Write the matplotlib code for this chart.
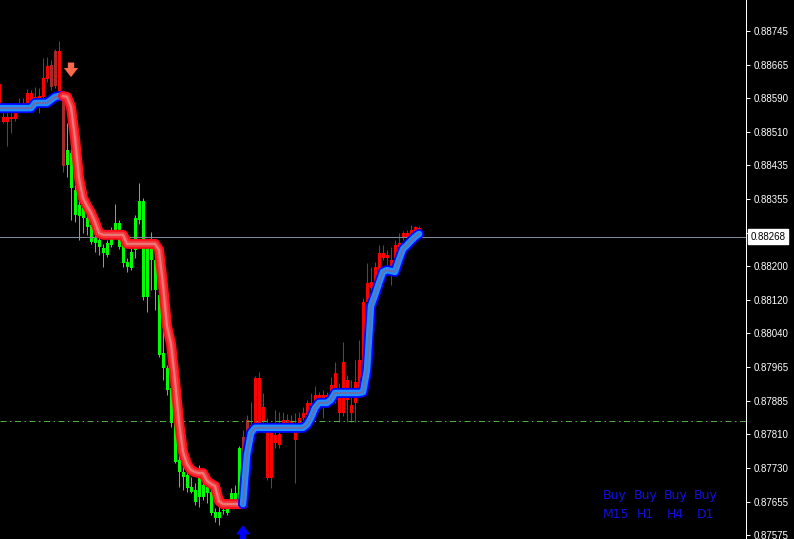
import numpy as np
import matplotlib.pyplot as plt
from matplotlib.transforms import blended_transform_factory


opens = [
    0.88573, 0.88534, 0.88534, 0.88541, 0.88541, 0.88566, 0.88569, 0.88573, 0.88580, 0.88583,
    0.88585, 0.88592, 0.88634, 0.88666, 0.88699, 0.88601, 0.88585, 0.88469, 0.88462, 0.88376,
    0.88341, 0.88334, 0.88311, 0.88295, 0.88265, 0.88260, 0.88241, 0.88225, 0.88248, 0.88276,
    0.88299, 0.88248, 0.88209, 0.88195, 0.88237, 0.88306, 0.88350, 0.88241, 0.88214, 0.88214,
    0.88132, 0.87998, 0.87963, 0.87916, 0.87835, 0.87749, 0.87721, 0.87715, 0.87687, 0.87680,
    0.87663, 0.87691, 0.87687, 0.87675, 0.87629, 0.87615, 0.87633, 0.87626, 0.87652, 0.87652,
    0.87656, 0.87803, 0.87842, 0.87814, 0.87819, 0.87831, 0.87838, 0.87708, 0.87708, 0.87789,
    0.87784, 0.87835, 0.87833, 0.87831, 0.87796, 0.87835, 0.87847, 0.87854, 0.87875, 0.87882,
    0.87884, 0.87884, 0.87893, 0.87905, 0.87916, 0.87858, 0.87858, 0.87889, 0.87858, 0.87882,
    0.87905, 0.87905, 0.88116, 0.88149, 0.88162, 0.88179, 0.88218, 0.88218, 0.88197, 0.88209,
    0.88241, 0.88265, 0.88267, 0.88272, 0.88279, 0.88288,
]
highs = [
    0.88631, 0.88562, 0.88562, 0.88557, 0.88562, 0.88590, 0.88590, 0.88610, 0.88608, 0.88615,
    0.88613, 0.88682, 0.88685, 0.88678, 0.88703, 0.88722, 0.88594, 0.88532, 0.88476, 0.88388,
    0.88369, 0.88346, 0.88325, 0.88302, 0.88272, 0.88269, 0.88251, 0.88260, 0.88290, 0.88343,
    0.88306, 0.88258, 0.88218, 0.88241, 0.88318, 0.88392, 0.88357, 0.88251, 0.88279, 0.88225,
    0.88144, 0.88070, 0.87970, 0.87923, 0.87842, 0.87761, 0.87733, 0.87733, 0.87710, 0.87696,
    0.87738, 0.87719, 0.87696, 0.87703, 0.87638, 0.87645, 0.87652, 0.87652, 0.87684, 0.87691,
    0.87782, 0.87819, 0.87854, 0.87884, 0.87944, 0.87954, 0.87905, 0.87847, 0.87831, 0.87865,
    0.87861, 0.87861, 0.87856, 0.87854, 0.87858, 0.87861, 0.87872, 0.87889, 0.87905, 0.87921,
    0.87907, 0.87912, 0.87907, 0.87942, 0.87977, 0.87928, 0.88023, 0.87947, 0.87935, 0.87981,
    0.88028, 0.88125, 0.88207, 0.88197, 0.88209, 0.88248, 0.88248, 0.88237, 0.88244, 0.88260,
    0.88276, 0.88281, 0.88283, 0.88295, 0.88292, 0.88292,
]
lows = [
    0.88562, 0.88532, 0.88478, 0.88508, 0.88536, 0.88562, 0.88564, 0.88571, 0.88576, 0.88578,
    0.88555, 0.88587, 0.88627, 0.88608, 0.88613, 0.88597, 0.88418, 0.88406, 0.88306, 0.88302,
    0.88260, 0.88276, 0.88272, 0.88251, 0.88232, 0.88225, 0.88197, 0.88220, 0.88244, 0.88269,
    0.88239, 0.88197, 0.88186, 0.88190, 0.88218, 0.88297, 0.88121, 0.88093, 0.88144, 0.88097,
    0.87988, 0.87935, 0.87900, 0.87826, 0.87742, 0.87687, 0.87680, 0.87675, 0.87673, 0.87645,
    0.87640, 0.87656, 0.87650, 0.87622, 0.87605, 0.87598, 0.87624, 0.87622, 0.87645, 0.87645,
    0.87640, 0.87668, 0.87796, 0.87807, 0.87814, 0.87824, 0.87831, 0.87703, 0.87684, 0.87777,
    0.87777, 0.87814, 0.87824, 0.87824, 0.87696, 0.87828, 0.87842, 0.87847, 0.87854, 0.87877,
    0.87879, 0.87847, 0.87889, 0.87898, 0.87882, 0.87838, 0.87851, 0.87838, 0.87838, 0.87838,
    0.87900, 0.87900, 0.88109, 0.88128, 0.88144, 0.88172, 0.88214, 0.88195, 0.88156, 0.88204,
    0.88237, 0.88260, 0.88262, 0.88267, 0.88274, 0.88267,
]
closes = [
    0.88622, 0.88545, 0.88545, 0.88545, 0.88555, 0.88576, 0.88578, 0.88601, 0.88601, 0.88592,
    0.88594, 0.88636, 0.88664, 0.88615, 0.88617, 0.88699, 0.88432, 0.88434, 0.88381, 0.88318,
    0.88316, 0.88311, 0.88290, 0.88255, 0.88253, 0.88244, 0.88230, 0.88253, 0.88265, 0.88299,
    0.88244, 0.88207, 0.88197, 0.88232, 0.88311, 0.88350, 0.88128, 0.88128, 0.88241, 0.88144,
    0.87993, 0.87963, 0.87912, 0.87835, 0.87745, 0.87721, 0.87710, 0.87684, 0.87675, 0.87652,
    0.87710, 0.87663, 0.87673, 0.87626, 0.87615, 0.87629, 0.87631, 0.87638, 0.87673, 0.87673,
    0.87777, 0.87673, 0.87803, 0.87831, 0.87940, 0.87940, 0.87872, 0.87814, 0.87814, 0.87807,
    0.87810, 0.87842, 0.87842, 0.87840, 0.87819, 0.87847, 0.87858, 0.87882, 0.87882, 0.87900,
    0.87900, 0.87900, 0.87900, 0.87923, 0.87951, 0.87896, 0.87977, 0.87935, 0.87877, 0.87930,
    0.87981, 0.88116, 0.88160, 0.88162, 0.88197, 0.88230, 0.88230, 0.88225, 0.88214, 0.88248,
    0.88253, 0.88276, 0.88276, 0.88283, 0.88290, 0.88268,
]
# candle colour per bar: r = red, g = green, b = brown
kinds = (
    "rrrrrrrrrrrrrbbrb"
    "gggggggggggggggggggggggggggggggggggggggggggg"
    "bb"
    "rrrrrrrrrrrrrrrrrrrrrrrrrrrrrrrrrrrrrrrrrrr"
)

# trend line of the indicator
band = [
    0.88566, 0.88566, 0.88566, 0.88566, 0.88566, 0.88566, 0.88566, 0.88566, 0.88566, 0.88578,
    0.88578, 0.88578, 0.88578, 0.88585, 0.88592, 0.88594, 0.88594, 0.88592, 0.88569, 0.88497,
    0.88404, 0.88357, 0.88339, 0.88323, 0.88302, 0.88276, 0.88272, 0.88272, 0.88272, 0.88272,
    0.88272, 0.88272, 0.88251, 0.88251, 0.88251, 0.88251, 0.88251, 0.88251, 0.88251, 0.88251,
    0.88237, 0.88156, 0.88060, 0.88019, 0.87935, 0.87838, 0.87768, 0.87740, 0.87726, 0.87721,
    0.87719, 0.87719, 0.87701, 0.87694, 0.87689, 0.87654, 0.87647, 0.87647, 0.87647, 0.87647,
    0.87647, 0.87647, 0.87761, 0.87812, 0.87824, 0.87824, 0.87824, 0.87824, 0.87824, 0.87824,
    0.87824, 0.87824, 0.87824, 0.87824, 0.87824, 0.87824, 0.87824, 0.87831, 0.87847, 0.87870,
    0.87882, 0.87882, 0.87882, 0.87889, 0.87905, 0.87905, 0.87905, 0.87905, 0.87905, 0.87905,
    0.87905, 0.87907, 0.87958, 0.88107, 0.88132, 0.88160, 0.88186, 0.88190, 0.88188, 0.88186,
    0.88214, 0.88239, 0.88248, 0.88258, 0.88267, 0.88274,
]
down_from = 16   # band turns red here
up_from = 61     # and back to blue here

sell_bar, sell_tip = 18, 0.88638
buy_bar, buy_tip = 61, 0.87598
level = 0.87840

price_ticks = [0.87575, 0.87653, 0.87731, 0.87809, 0.87887, 0.87965, 0.88043, 0.88121,
               0.88199, 0.88277, 0.88355, 0.88433, 0.88511, 0.88589, 0.88667, 0.88745]
price_labels = ["0.87575", "0.87655", "0.87730", "0.87810", "0.87885", "0.87965", "0.88040",
                "0.88120", "0.88200", "0.88280", "0.88355", "0.88435", "0.88510", "0.88590",
                "0.88665", "0.88745"]

signals = ["Buy", "Buy", "Buy", "Buy"]
frames = ["M15", "H1", "H4", "D1"]


W, H = 794, 539
PX = 72 / 100

fig = plt.figure(figsize=(W / 100, H / 100), dpi=100, facecolor="black")
ax = fig.add_axes([0, 0, 746 / W, 1])
ax.set_facecolor("black")

idx = np.arange(len(closes))
o = np.array(opens)
c = np.array(closes)
palette = {"r": "#ff0000", "g": "#00ff00", "b": "#a52a2a"}
cols = [palette[k] for k in kinds]

ax.vlines(idx, lows, highs, colors=cols, lw=1 * PX, zorder=2)
body_low = np.minimum(o, c)
body_h = np.maximum(np.abs(c - o), 0.00002)
ax.bar(idx, body_h, bottom=body_low, width=0.75, color=cols, lw=0, zorder=2)

# horizontal lines
ax.axhline(closes[-1], color="#7d8a97", lw=1 * PX, zorder=3)
ax.axhline(level, color="#4fae3f", lw=1 * PX, dashes=(6, 3.5, 1.5, 3.5), zorder=3)

# indicator band
up_layers = [("#0000ff", 10), ("#1e90ff", 6.5), ("#6c6ca8", 2)]
down_layers = [("#ff0d1a", 10), ("#f3383d", 6), ("#ee7878", 2.2)]
parts = [(0, down_from, up_layers), (down_from, up_from, down_layers),
         (up_from, len(band) - 1, up_layers)]
band_arr = np.array(band)
for a, b, layers in parts:
    for colr, w in layers:
        ax.plot(idx[a:b + 1], band_arr[a:b + 1], color=colr, lw=w * PX,
                solid_capstyle="round", solid_joinstyle="round", zorder=4)

# signal arrows
arrow = "simple,head_length=0.55,head_width=0.85,tail_width=0.38"
ax.annotate("", xy=(sell_bar, sell_tip), xytext=(0, 10.5), textcoords="offset points",
            arrowprops=dict(arrowstyle=arrow, color="#ff6a4d", lw=0,
                            shrinkA=0, shrinkB=0, mutation_scale=12), zorder=5)
ax.annotate("", xy=(buy_bar, buy_tip), xytext=(0, -10.5), textcoords="offset points",
            arrowprops=dict(arrowstyle=arrow, color="#0000ff", lw=0,
                            shrinkA=0, shrinkB=0, mutation_scale=12), zorder=5)

ax.set_xlim(0.25, 186.75)
ax.set_ylim(0.87566, 0.88817)

# price scale on the right
for side in ["left", "top", "bottom"]:
    ax.spines[side].set_visible(False)
ax.spines["right"].set_color("white")
ax.spines["right"].set_linewidth(1 * PX)
ax.set_xticks([])
ax.yaxis.tick_right()
ax.set_yticks(price_ticks)
ax.set_yticklabels(price_labels)
ax.tick_params(axis="y", colors="white", length=3, width=1 * PX, pad=2.5,
               labelsize=7, direction="out")
for t in ax.get_yticklabels():
    t.set_family("Liberation Sans")

# current price box
trans = blended_transform_factory(ax.transAxes, ax.transData)
ax.text(1.006, closes[-1], f"{closes[-1]:.5f}", transform=trans, ha="left", va="center",
        color="black", fontsize=7, family="Liberation Sans", clip_on=False, zorder=10,
        bbox=dict(boxstyle="square,pad=0.22", fc="white", ec="white"))

# signal panel
for i, (s, f) in enumerate(zip(signals, frames)):
    fig.text((603 + 30.3 * i) / W, 1 - 496 / H, s, color="#1010e6", fontsize=9,
             ha="left", va="center")
    fig.text((603 + 30.3 * i + (3 if i else 0)) / W, 1 - 514 / H, f, color="#1010e6",
             fontsize=9, ha="left", va="center")

plt.savefig("out.png", dpi=100, facecolor="black")
